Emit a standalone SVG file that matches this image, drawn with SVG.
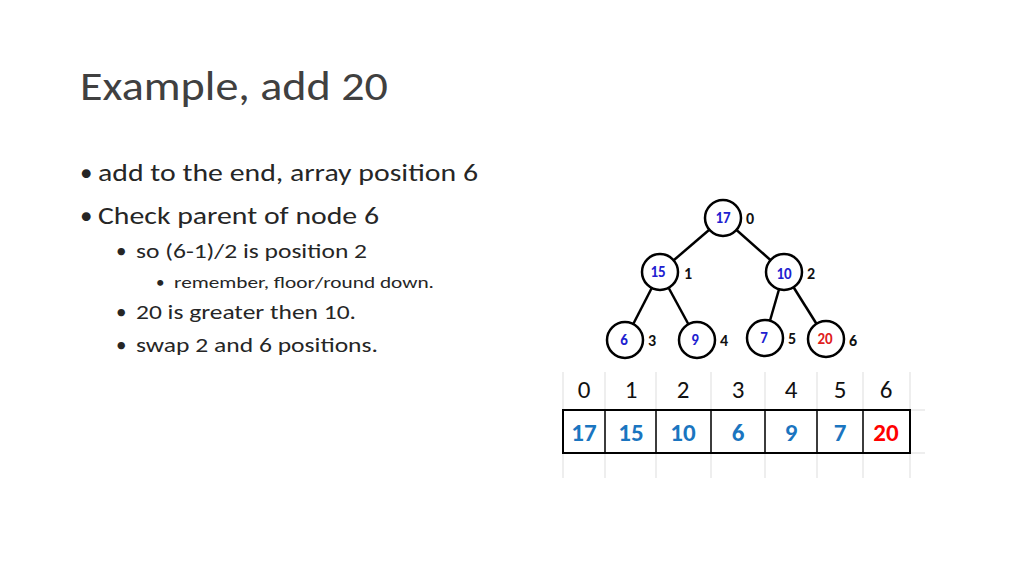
<svg xmlns="http://www.w3.org/2000/svg" width="1024" height="576" viewBox="0 0 1024 576">
<style>
text{font-family:Calibri,Carlito,"Liberation Sans",sans-serif}
.t{font-size:42px;fill:#404040}
.b{font-size:25px;fill:#262626}
.s{font-size:21px;fill:#262626}
.ss{font-size:17px;fill:#262626}
.n circle{fill:#fff;stroke:#000;stroke-width:2.5}
.v{font-size:15px;fill:#2020d0;text-anchor:middle;font-weight:bold}
.i{font-size:16px;fill:#111;font-weight:bold}
.e line{stroke:#000;stroke-width:2.5}
.h{font-size:25px;fill:#111;text-anchor:middle}
.c{font-size:25px;fill:#1a75c0;text-anchor:middle;font-weight:bold}
</style>
<rect width="1024" height="576" fill="#fff"/>
<text class="t" x="80" y="100" textLength="308" lengthAdjust="spacingAndGlyphs">Example, add 20</text>
<g id="bullets">
<text class="b" x="80" y="181">•</text><text class="b" x="98" y="181" textLength="380" lengthAdjust="spacingAndGlyphs">add to the end, array position 6</text>
<text class="b" x="80" y="224">•</text><text class="b" x="98" y="224" textLength="281" lengthAdjust="spacingAndGlyphs">Check parent of node 6</text>
<text class="s" x="116" y="258">•</text><text class="s" x="136" y="258" textLength="231" lengthAdjust="spacingAndGlyphs">so (6-1)/2 is position 2</text>
<text class="ss" x="156" y="288">•</text><text class="ss" x="174" y="288" textLength="260" lengthAdjust="spacingAndGlyphs">remember, floor/round down.</text>
<text class="s" x="116" y="319">•</text><text class="s" x="136" y="319" textLength="220" lengthAdjust="spacingAndGlyphs">20 is greater then 10.</text>
<text class="s" x="116" y="352">•</text><text class="s" x="136" y="352" textLength="242" lengthAdjust="spacingAndGlyphs">swap 2 and 6 positions.</text>
</g>
<g id="connectors" class="e">
<line x1="723" y1="218" x2="660" y2="272"/><line x1="723" y1="218" x2="784" y2="272"/>
<line x1="660" y1="272" x2="625" y2="340"/><line x1="660" y1="272" x2="697" y2="340"/>
<line x1="784" y1="272" x2="765" y2="338"/><line x1="784" y1="272" x2="826" y2="339"/>
</g>
<g id="n0" class="n"><circle cx="723" cy="218" r="18"/><text class="v" x="723" y="223">17</text><text class="i" x="746" y="224">0</text></g>
<g id="n1" class="n"><circle cx="660" cy="272" r="18"/><text class="v" x="658" y="277">15</text><text class="i" x="684" y="279">1</text></g>
<g id="n2" class="n"><circle cx="784" cy="272" r="18"/><text class="v" x="784" y="279">10</text><text class="i" x="807" y="279">2</text></g>
<g id="n3" class="n"><circle cx="625" cy="340" r="18"/><text class="v" x="624" y="345">6</text><text class="i" x="648" y="346">3</text></g>
<g id="n4" class="n"><circle cx="697" cy="340" r="18"/><text class="v" x="695" y="345">9</text><text class="i" x="720" y="346">4</text></g>
<g id="n5" class="n"><circle cx="765" cy="338" r="18"/><text class="v" x="764" y="343">7</text><text class="i" x="788" y="344">5</text></g>
<g id="n6" class="n"><circle cx="826" cy="339" r="18"/><text class="v" x="825" y="344" style="fill:#e02020">20</text><text class="i" x="849" y="346">6</text></g>
<g id="array">
<g stroke="#ddd" stroke-width="1">
<line x1="563" y1="372" x2="563" y2="478"/><line x1="605" y1="372" x2="605" y2="478"/><line x1="656" y1="372" x2="656" y2="478"/><line x1="711" y1="372" x2="711" y2="478"/><line x1="765" y1="372" x2="765" y2="478"/><line x1="817" y1="372" x2="817" y2="478"/><line x1="863" y1="372" x2="863" y2="478"/><line x1="910" y1="372" x2="910" y2="478"/>
<line x1="563" y1="453" x2="925" y2="453"/><line x1="910" y1="410" x2="925" y2="410"/>
</g>
<rect x="563" y="410" width="347" height="43" fill="none" stroke="#000" stroke-width="2"/>
<g stroke="#000" stroke-width="1.5"><line x1="605" y1="410" x2="605" y2="453"/><line x1="656" y1="410" x2="656" y2="453"/><line x1="711" y1="410" x2="711" y2="453"/><line x1="765" y1="410" x2="765" y2="453"/><line x1="817" y1="410" x2="817" y2="453"/><line x1="863" y1="410" x2="863" y2="453"/></g>
<text class="h" x="584" y="398">0</text><text class="h" x="631" y="398">1</text><text class="h" x="683" y="398">2</text><text class="h" x="738" y="398">3</text><text class="h" x="791" y="398">4</text><text class="h" x="840" y="398">5</text><text class="h" x="886" y="398">6</text>
<text class="c" x="584" y="441">17</text><text class="c" x="631" y="441">15</text><text class="c" x="683" y="441">10</text><text class="c" x="738" y="441">6</text><text class="c" x="791" y="441">9</text><text class="c" x="840" y="441">7</text><text class="c" x="886" y="441" style="fill:#f00">20</text>
</g>
</svg>
